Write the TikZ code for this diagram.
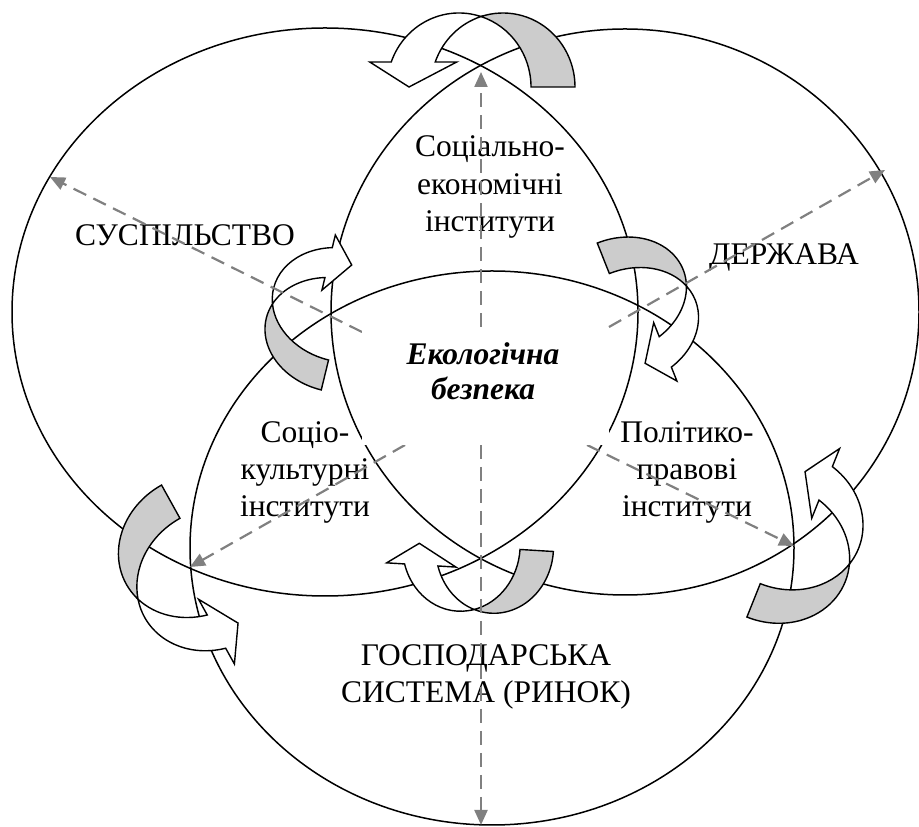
\documentclass[tikz,border=0pt]{standalone}
\usepackage{fontspec}
\setmainfont{Liberation Serif}
\usetikzlibrary{arrows.meta,shapes.geometric}
\tikzset{
 circ/.style={draw, ellipse, line width=1.5pt, inner sep=0pt, outer sep=0pt},
 arrwhite/.style={fill=white, draw=black, line width=1.4pt, line join=miter},
 arrgray/.style={fill=gray!40, draw=black, line width=1.4pt, line join=miter},
 dasharr/.style={draw=gray, line width=2.2pt, dash pattern=on 14pt off 8pt, -{Triangle[length=15pt,width=13pt]}},
 lbl/.style={font=\fontsize{31.5}{37.5}\selectfont, inner sep=0pt, anchor=base},
 ecolbl/.style={font=\fontsize{31.5}{35}\selectfont\bfseries\itshape, inner sep=0pt, anchor=base},
}
% #1 transform, #2 rx, #3 ry, #4 half offset d, #5 arrowhead base height, #6 barb extension
\newcommand\curvarr[6]{%
\begin{scope}[#1]
\pgfmathsetmacro\CAa{acos(#4/#2)}%
\pgfmathsetmacro\CAb{180-asin(#5/#3)}%
\pgfmathsetmacro\CAp{#3*sin(\CAa)}%
\pgfmathsetmacro\CAox{-#4+#2*cos(\CAb)}%
\pgfmathsetmacro\CAix{#4+#2*cos(\CAb)}%
\pgfmathsetmacro\CAq{180-\CAa}%
\filldraw[arrwhite] (0,\CAp) arc[start angle=\CAa, end angle=\CAb, x radius=#2, y radius=#3]
  -- (\CAox-#6,#5) -- (-#2,0) -- (\CAix+#6,#5) -- (\CAix,#5)
  arc[start angle=\CAb, end angle=\CAq, x radius=#2, y radius=#3] -- cycle;
\filldraw[arrgray] (0,\CAp) arc[start angle=\CAq, end angle=0, x radius=#2, y radius=#3]
  -- (#2-#4,0) arc[start angle=0, end angle=\CAa, x radius=#2, y radius=#3] -- cycle;
\end{scope}}
\begin{document}
\begin{tikzpicture}[x=1pt,y=1pt]
\useasboundingbox (0,0) rectangle (919,827);
% circles
\node[circ, minimum width=626pt, minimum height=568pt] (susc) at (325,515) {};
\node[circ, minimum width=588pt, minimum height=566pt] (derc) at (625,515) {};
\node[circ, minimum width=604pt, minimum height=554pt] (gosc) at (492,279) {};
% curved arrows
\curvarr{shift={(481,740)}}{72}{74}{22}{25}{21.5}
\curvarr{shift={(624.2,516.2)},rotate=-68.3,xscale=-1}{56.5}{70}{16.4}{23}{15}
\curvarr{shift={(338.3,507)},rotate=76.3,xscale=-1}{56.6}{70.4}{15.4}{23}{13}
\curvarr{shift={(204.4,264.6)},rotate=119}{69.4}{78.9}{19}{23}{18}
\curvarr{shift={(478,280.1)},rotate=176.5,xscale=-1}{58.8}{65.4}{16.7}{21.5}{18}
\curvarr{shift={(779.3,291)},rotate=248.2}{69.3}{78.2}{18}{23.5}{19.5}
% labels
\node[lbl] (sus) at (185,581) {СУСПІЛЬСТВО};
\node[lbl] (der) at (784,562) {ДЕРЖАВА};
\node[lbl] (se1) at (490,670) {Соціально-};
\node[lbl] (se2) at (490,632) {економічні};
\node[lbl] (se3) at (490,595) {інститути};
\node[lbl] (sk1) at (305,384) {Соціо-};
\node[lbl] (sk2) at (305,347) {культурні};
\node[lbl] (sk3) at (305,310) {інститути};
\node[lbl] (pp1) at (687,384) {Політико-};
\node[lbl] (pp2) at (687,347) {правові};
\node[lbl] (pp3) at (687,310) {інститути};
\node[lbl] (gs1) at (486,161) {ГОСПОДАРСЬКА};
\node[lbl] (gs2) at (486,124) {СИСТЕМА (РИНОК)};
% dashed arrows
\coordinate (ups) at (481,500); \coordinate (upe) at (481,755);
\coordinate (dns) at (481,382); \coordinate (dne) at (481,2);
\coordinate (uls) at (362,495); \coordinate (ule) at (50,650);
\coordinate (urs) at (609,500); \coordinate (ure) at (885,657);
\coordinate (lls) at (405,382); \coordinate (lle) at (190,260);
\coordinate (lrs) at (587,382); \coordinate (lre) at (794,281);
\draw[dasharr] (ups) -- (upe);
\draw[dasharr] (dns) -- (dne);
\draw[dasharr] (uls) -- (ule);
\draw[dasharr] (urs) -- (ure);
\draw[dasharr] (lls) -- (lle);
\draw[dasharr] (lrs) -- (lre);
% centre
\node[fill=white, inner sep=0pt, minimum width=247pt, minimum height=118pt] (ecobox) at (485.5,441) {};
\node[ecolbl] (ek1) at (483,462) {Екологічна};
\node[ecolbl] (ek2) at (483,427) {безпека};
\end{tikzpicture}
\end{document}
